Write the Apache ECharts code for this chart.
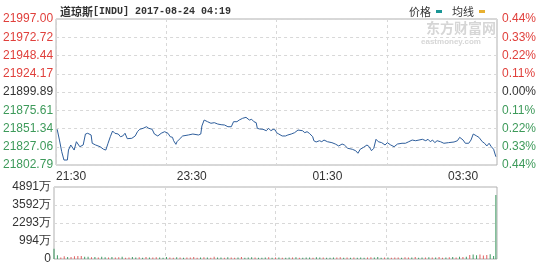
<!DOCTYPE html>
<html><head><meta charset="utf-8">
<script src="https://cdn.jsdelivr.net/npm/echarts@6/dist/echarts.min.js"></script>
<style>html,body{margin:0;padding:0;background:#fff}#c{width:554px;height:266px}</style>
</head><body><div id="c"></div>
<script>
// ---- data ----
const indexName = '道琼斯';
const indexCode = '[INDU] 2017-08-24 04:19';
const priceTickLabels = ['21997.00','21972.72','21948.44','21924.17','21899.89','21875.61','21851.34','21827.06','21802.79']; // top -> bottom
const pctTickLabels = ['0.44%','0.33%','0.22%','0.11%','0.00%','0.11%','0.22%','0.33%','0.44%']; // top -> bottom
const priceMin = 21802.79;
const priceMax = 21997.00;
const timeTickLabels = ['21:30','23:30','01:30','03:30'];
const timeTickMinutes = [0,120,240,360]; // minutes after the 21:30 open
const sessionMinutes = 390;
const volTickLabels = ['4891万','3592万','2293万','994万','0']; // top -> bottom
const volMax = 4891; // 万

// price line: minute after open, price
const priceMinute = [1,3,5,7,10,11,13,14,16,18,19,21,24,25,26,28,31,32,35,39,42,44,46,48,50,52,55,57,59,61,63,67,70,72,74,77,80,82,85,87,90,93,96,99,101,103,104,106,107,109,112,117,121,126,128,129,131,134,135,137,140,143,146,149,152,155,157,160,162,165,168,171,173,175,177,178,180,183,186,188,190,192,194,195,197,200,203,205,208,211,214,215,218,220,222,224,227,228,230,233,235,237,240,241,244,247,250,253,255,258,262,265,267,269,272,275,277,279,281,283,285,288,291,293,296,299,302,306,309,312,315,318,321,324,327,329,331,333,335,337,340,343,347,352,355,357,360,362,365,367,369,372,374,377,379,381,383,385,387,389];
const priceValue = [21850.3,21836.0,21820.5,21809.4,21809.4,21822.7,21829.4,21827.1,21822.7,21833.8,21836.0,21827.1,21829.4,21831.7,21844.0,21845.0,21842.7,21831.7,21829.4,21827.1,21823.7,21822.7,21831.7,21840.4,21848.0,21845.0,21844.0,21840.4,21841.4,21845.0,21837.8,21838.3,21841.4,21847.1,21850.3,21851.6,21853.7,21851.6,21850.3,21844.0,21841.4,21845.0,21847.1,21845.0,21840.4,21839.6,21835.1,21830.3,21833.8,21837.0,21841.4,21842.7,21844.0,21842.7,21844.0,21854.7,21862.6,21860.4,21861.7,21858.3,21859.1,21857.3,21856.4,21856.0,21853.7,21853.7,21860.4,21860.4,21862.6,21864.9,21866.2,21862.6,21863.6,21860.4,21859.1,21851.6,21850.7,21850.3,21848.4,21851.6,21848.4,21850.3,21849.3,21845.8,21844.0,21841.4,21841.4,21842.7,21844.0,21845.8,21849.3,21847.1,21848.4,21845.8,21847.1,21845.0,21840.4,21835.1,21833.4,21835.1,21833.8,21836.0,21833.8,21835.1,21832.5,21830.7,21828.1,21830.7,21829.4,21825.0,21823.7,21821.8,21818.4,21823.7,21826.3,21829.4,21827.1,21821.8,21825.0,21837.0,21833.8,21832.5,21829.4,21832.5,21829.4,21827.1,21830.7,21831.7,21831.7,21833.8,21836.0,21835.1,21836.0,21837.0,21835.1,21837.0,21833.8,21836.0,21832.5,21835.1,21833.8,21831.7,21832.5,21833.4,21835.1,21839.6,21836.0,21831.7,21831.7,21836.0,21844.0,21841.4,21839.6,21833.8,21831.7,21828.1,21831.7,21827.1,21823.7,21813.8];
const avgValue = []; // 均线 not visible in the picture

// volume (万), one bar per 3 minutes from 0 to 387, then the closing bar
const volMinute = [0,3,6,9,12,15,18,21,24,27,30,33,36,39,42,45,48,51,54,57,60,63,66,69,72,75,78,81,84,87,90,93,96,99,102,105,108,111,114,117,120,123,126,129,132,135,138,141,144,147,150,153,156,159,162,165,168,171,174,177,180,183,186,189,192,195,198,201,204,207,210,213,216,219,222,225,228,231,234,237,240,243,246,249,252,255,258,261,264,267,270,273,276,279,282,285,288,291,294,297,300,303,306,309,312,315,318,321,324,327,330,333,336,339,342,345,348,351,354,357,360,363,366,369,372,375,378,381,384,387,389];
const volValue = [
 700,250,110,190,140,130,190,200,210,150,
 160,120,140,100,150,120,110,130,100,120,
 150,90,110,140,100,120,90,130,110,100,
 120,100,90,130,110,90,120,100,80,110,
 100,130,90,110,120,100,90,150,110,100,
 90,120,100,80,110,130,90,100,120,110,
 90,80,100,120,90,110,100,80,90,110,
 100,120,90,80,110,100,90,120,100,110,
 80,90,110,100,120,90,100,80,110,90,
 100,90,110,120,100,130,90,110,100,90,
 110,100,90,120,110,100,130,90,110,100,
 120,110,100,130,90,110,120,140,110,150,
 130,150,280,300,260,310,240,280,320,200,
 4350];
const volDir = 'ggrrgrrrrg'+'grgrggrgrr'+'grrggrgrgr'+'rgggrrgrgr'+'rrrgrgrrgg'+'rgrrgrgggr'+'gggrgrgrgg'+'rgrgggrggr'+'gggrrgrgrg'+'ggrrgggrgr'+'rrgrrgrggr'+'grgrrgrgrg'+'rgrggrrrgg'+'g';

// ---- chart ----
const RED = '#e0403c', GREEN = '#3d9a5a', DARK = '#333333';
const FONT = '"Liberation Sans", Arial, sans-serif';
const CJK = '"Noto Sans CJK SC", sans-serif';
const dashed = {show:true, lineStyle:{color:'#d8d8d8', type:[3,3], width:1}};

const chart = echarts.init(document.getElementById('c'), null, {renderer:'canvas'});
chart.setOption({
  animation:false,
  backgroundColor:'#ffffff',
  title:{
    left:55, top:1,
    text:'{cn|'+indexName+'}{en|'+indexCode+'}',
    textStyle:{rich:{
      cn:{fontFamily:CJK, fontSize:11, color:DARK},
      en:{fontFamily:'"Liberation Mono", monospace', fontSize:10, color:DARK}
    }}
  },
  legend:{
    right:64, top:1, align:'right', icon:'rect', itemWidth:6, itemHeight:3, itemGap:10,
    textStyle:{fontFamily:CJK, fontSize:11, color:DARK},
    data:[{name:'价格', itemStyle:{color:'#1a9696'}}, {name:'均线', itemStyle:{color:'#e8b030'}}]
  },
  graphic:[
    {type:'text', left:426, top:21, z:0, style:{text:'东方财富网', font:'bold 14px "Noto Sans CJK SC"', fill:'#d6d6d6'}},
    {type:'text', left:421, top:38, z:0, style:{text:'eastmoney.com', font:'bold 8px "Liberation Sans"', fill:'#d6d6d6'}}
  ],
  grid:[
    {left:54, right:57, top:19, height:146, show:true, borderColor:'#b0b0b0', borderWidth:1},
    {left:54, right:57, top:187, height:72, show:true, borderColor:'#b0b0b0', borderWidth:1}
  ],
  xAxis:[
    {gridIndex:0, type:'value', min:0, max:sessionMinutes, interval:sessionMinutes/4,
     axisLine:{show:false}, axisTick:{show:false}, axisLabel:{show:false}, splitLine:dashed},
    {gridIndex:0, type:'value', position:'bottom', min:0, max:sessionMinutes, interval:120,
     axisLine:{show:false}, axisTick:{show:false}, splitLine:{show:false},
     axisLabel:{show:true, margin:6, alignMinLabel:'left', color:DARK, fontSize:12, fontFamily:FONT,
       formatter:(v)=>{const i=timeTickMinutes.indexOf(v); return i>=0?timeTickLabels[i]:'';}}},
    {gridIndex:1, type:'value', min:0, max:sessionMinutes, interval:sessionMinutes/4,
     axisLine:{show:false}, axisTick:{show:false}, axisLabel:{show:false}, splitLine:dashed}
  ],
  yAxis:[
    {gridIndex:0, type:'value', min:priceMin, max:priceMax, show:false},
    {gridIndex:0, type:'value', position:'left', min:0, max:8, interval:1,
     axisLine:{show:false}, axisTick:{show:false}, splitLine:dashed,
     axisLabel:{margin:3, fontSize:12, fontFamily:FONT,
       formatter:(v)=>{const i=8-v; const s=i<4?'r':(i>4?'g':'n'); return '{'+s+'|'+priceTickLabels[i]+'}';},
       rich:{r:{color:RED, fontSize:12, fontFamily:FONT}, g:{color:GREEN, fontSize:12, fontFamily:FONT}, n:{color:DARK, fontSize:12, fontFamily:FONT}}}},
    {gridIndex:0, type:'value', position:'right', min:0, max:8, interval:1,
     axisLine:{show:false}, axisTick:{show:false}, splitLine:{show:false},
     axisLabel:{margin:5, fontSize:12, fontFamily:FONT,
       formatter:(v)=>{const i=8-v; const s=i<4?'r':(i>4?'g':'n'); return '{'+s+'|'+pctTickLabels[i]+'}';},
       rich:{r:{color:RED, fontSize:12, fontFamily:FONT}, g:{color:GREEN, fontSize:12, fontFamily:FONT}, n:{color:DARK, fontSize:12, fontFamily:FONT}}}},
    {gridIndex:1, type:'value', min:0, max:volMax, show:false},
    {gridIndex:1, type:'value', position:'left', min:0, max:4, interval:1,
     axisLine:{show:false}, axisTick:{show:false}, splitLine:dashed,
     axisLabel:{margin:3, fontSize:12, fontFamily:FONT, color:DARK,
       formatter:(v)=>volTickLabels[4-v]}}
  ],
  series:[
    {name:'价格', type:'line', xAxisIndex:0, yAxisIndex:0, symbol:'none', smooth:false,
     lineStyle:{color:'#2e5e9c', width:1}, itemStyle:{color:'#2e5e9c'},
     data:priceMinute.map((m,i)=>[m, priceValue[i]])},
    {name:'均线', type:'line', xAxisIndex:0, yAxisIndex:0, symbol:'none',
     lineStyle:{color:'#e8b030', width:1}, itemStyle:{color:'#e8b030'}, data:avgValue},
    {name:'成交量', type:'bar', xAxisIndex:2, yAxisIndex:3, barWidth:1,
     data:volMinute.map((m,i)=>({value:[m, volValue[i]], itemStyle:{color: volDir[i]==='r' ? '#e06060' : '#3e9a62'}}))}
  ]
});
</script></body></html>
